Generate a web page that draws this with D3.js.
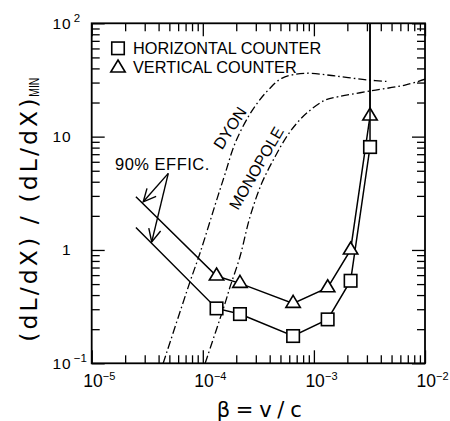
<!DOCTYPE html>
<html><head><meta charset="utf-8">
<script src="https://cdn.jsdelivr.net/npm/d3@7"></script>
<style>
body{margin:0;background:#fff}
svg{display:block}
text{font-family:"Liberation Sans",Arial,Helvetica,sans-serif;fill:#000}
</style>
</head><body>
<svg id="chart" width="450" height="421"></svg>
<script>
// ---------- data ----------
const beta = [1.33e-4, 2.16e-4, 6.5e-4, 1.33e-3, 2.14e-3, 3.2e-3];
const horizontalCounter = [0.305, 0.272, 0.174, 0.244, 0.535, 8.1];
const verticalCounter = [0.589, 0.507, 0.338, 0.464, 1.0, 15.2];
// 90% efficiency extrapolation (start of each line at low beta)
const effStartBeta = 2.5e-5;
const effStartHorizontal = 1.58;
const effStartVertical = 2.95;
const offScaleValue = 100; // lines continue off the top of the plot

const dyonBeta  = [4.4e-5, 7.67e-5, 9.44e-5, 1.35e-4, 1.585e-4, 1.95e-4, 2.57e-4, 3.16e-4, 3.89e-4, 5.13e-4, 8.32e-4, 1.55e-3, 3.07e-3, 4.65e-3];
const dyonValue = [0.1,    0.524,   0.94,    2.87,    4.68,     8.73,    15.0,    20.3,    25.8,    32.7,    36.2,    34.3,    31.6,    30.6];

const monopoleBeta  = [1.05e-4, 1.585e-4, 1.76e-4, 2.16e-4, 2.66e-4, 3.39e-4, 4.47e-4, 5.69e-4, 7.0e-4, 8.91e-4, 1.26e-3, 1.66e-3, 3.31e-3, 6.61e-3, 1.0e-2];
const monopoleValue = [0.1,     0.338,    0.473,   0.871,   1.96,    3.87,    6.65,    10.0,    13.1,   16.6,    21.0,    22.5,    25.4,    28.5,    32.1];

const xTickValues = [1e-5, 1e-4, 1e-3, 1e-2];
const xTickBase = ["10", "10", "10", "10"];
const xTickExp  = ["\u22125", "\u22124", "\u22123", "\u22122"];
const yTickValues = [0.1, 1, 10, 100];
const yTickBase = ["10", "1", "10", "10"];
const yTickExp  = ["\u22121", "", "", "2"];

const legendLabels = ["HORIZONTAL COUNTER", "VERTICAL COUNTER"];

// ---------- layout ----------
const L = 91.7, R = 425, T = 23.3, B = 363.3;
const svg = d3.select("#chart");
const x = d3.scaleLog().domain([1e-5, 1e-2]).range([L, R]);
const y = d3.scaleLog().domain([0.1, 100]).range([B, T]);

const isMajor = (v, arr) => arr.some(m => Math.abs(Math.log10(v) - Math.log10(m)) < 1e-6);
const minorX = x.ticks().filter(v => !isMajor(v, xTickValues));
const minorY = y.ticks().filter(v => !isMajor(v, yTickValues));

function tickAxis(axisFn, scale, vals, size, tr) {
  const g = svg.append("g").attr("transform", tr)
    .call(axisFn(scale).tickValues(vals).tickSize(-size).tickSizeOuter(0).tickFormat(""));
  g.select(".domain").remove();
  g.selectAll(".tick line").attr("stroke", "#000").attr("stroke-width", 1.3);
}
tickAxis(d3.axisBottom, x, xTickValues, 13, `translate(0,${B})`);
tickAxis(d3.axisBottom, x, minorX, 8, `translate(0,${B})`);
tickAxis(d3.axisTop, x, xTickValues, 13, `translate(0,${T})`);
tickAxis(d3.axisTop, x, minorX, 8, `translate(0,${T})`);
tickAxis(d3.axisLeft, y, yTickValues, 13, `translate(${L},0)`);
tickAxis(d3.axisLeft, y, minorY, 8, `translate(${L},0)`);
tickAxis(d3.axisRight, y, yTickValues, 13, `translate(${R},0)`);
tickAxis(d3.axisRight, y, minorY, 8, `translate(${R},0)`);

svg.append("rect").attr("x", L).attr("y", T).attr("width", R - L).attr("height", B - T)
  .attr("fill", "none").attr("stroke", "#000").attr("stroke-width", 1.8);

// x tick labels
xTickValues.forEach((v, i) => {
  const x0 = x(v) - 8.5, yb = B + 23.3;
  svg.append("text").attr("x", x0).attr("y", yb).attr("font-size", 17.5).text(xTickBase[i]);
  svg.append("text").attr("x", x0 + 19.6).attr("y", yb - 7).attr("font-size", 11).text(xTickExp[i]);
});
// y tick labels
yTickValues.forEach((v, i) => {
  const yy = y(v) + 5.3;
  svg.append("text").attr("x", L - 20).attr("y", yy).attr("text-anchor", "end")
    .attr("font-size", 15.5).attr("letter-spacing", 1).text(yTickBase[i]);
  if (yTickExp[i]) {
    svg.append("text").attr("x", L - 18).attr("y", yy - 6.5).attr("font-size", 11.5).text(yTickExp[i]);
  }
});

// axis titles
svg.append("text").attr("x", 216.7).attr("y", 416.5).attr("font-size", 21)
  .style("font-family", "'DejaVu Sans',sans-serif")
  .attr("textLength", 85).attr("lengthAdjust", "spacing").text("\u03B2=v/c");
svg.append("text").attr("transform", "translate(37,341.7) rotate(-90)").attr("font-size", 23.5)
  .style("font-family", "'DejaVu Sans',sans-serif")
  .attr("textLength", 243).attr("lengthAdjust", "spacing").text("(dL/dX) / (dL/dX)");
svg.append("text").attr("transform", "translate(38.8,96.7) rotate(-90)").attr("font-size", 14)
  .attr("textLength", 19).attr("lengthAdjust", "spacingAndGlyphs").text("MIN");

// curves
svg.append("clipPath").attr("id", "plotclip").append("rect")
  .attr("x", L).attr("y", T).attr("width", R - L).attr("height", B - T);
const plot = svg.append("g").attr("clip-path", "url(#plotclip)");
const curveGen = d3.line().x(d => x(d[0])).y(d => y(d[1])).curve(d3.curveCatmullRom.alpha(0.5));
const lineGen = d3.line().x(d => x(d[0])).y(d => y(d[1]));

plot.append("path").attr("d", curveGen(d3.zip(dyonBeta, dyonValue)))
  .attr("fill", "none").attr("stroke", "#000").attr("stroke-width", 1.3).attr("stroke-dasharray", "8,3,1.6,3");
plot.append("path").attr("d", curveGen(d3.zip(monopoleBeta, monopoleValue)))
  .attr("fill", "none").attr("stroke", "#000").attr("stroke-width", 1.3).attr("stroke-dasharray", "8,3,1.6,3");

const last = beta.length - 1;
const hPts = [[effStartBeta, effStartHorizontal], ...d3.zip(beta, horizontalCounter)];
const vPts = [[effStartBeta, effStartVertical], ...d3.zip(beta, verticalCounter), [beta[last], offScaleValue]];
plot.append("path").attr("d", lineGen(hPts)).attr("fill", "none").attr("stroke", "#000").attr("stroke-width", 1.5);
plot.append("path").attr("d", lineGen(vPts)).attr("fill", "none").attr("stroke", "#000").attr("stroke-width", 1.5);

// markers
const sq = 12.5;
function square(g, cx, cy) {
  g.append("rect").attr("x", cx - sq / 2).attr("y", cy - sq / 2).attr("width", sq).attr("height", sq)
    .attr("fill", "#fff").attr("stroke", "#000").attr("stroke-width", 1.6);
}
function triangle(g, cx, cy) {
  g.append("path").attr("d", `M${cx},${cy - 8}L${cx + 7.2},${cy + 4}L${cx - 7.2},${cy + 4}Z`)
    .attr("fill", "#fff").attr("stroke", "#000").attr("stroke-width", 1.6).attr("stroke-linejoin", "miter");
}
beta.forEach((b, i) => square(svg, x(b), y(horizontalCounter[i])));
beta.forEach((b, i) => triangle(svg, x(b), y(verticalCounter[i])));
// horizontal-counter line continues off scale, drawn over the triangle
svg.append("path").attr("d", lineGen([[beta[last], horizontalCounter[last]], [beta[last], offScaleValue]]))
  .attr("stroke", "#000").attr("stroke-width", 1.5).attr("fill", "none");
square(svg, x(beta[last]), y(horizontalCounter[last]));

// legend
square(svg, 118, 48.3);
triangle(svg, 118, 68);
svg.append("text").attr("x", 133).attr("y", 53.5).attr("font-size", 16.3).text(legendLabels[0]);
svg.append("text").attr("x", 133).attr("y", 72.7).attr("font-size", 16.3).text(legendLabels[1]);

// curve labels (just left of each curve)
svg.append("text").attr("transform", `translate(${x(1.95e-4) - 5},${y(11.2) - 3}) rotate(-57)`)
  .attr("text-anchor", "middle").attr("dominant-baseline", "central").attr("font-size", 16).text("DYON");
svg.append("text").attr("transform", `translate(${x(3.44e-4) - 6},${y(4.9) - 3.5}) rotate(-60)`)
  .attr("text-anchor", "middle").attr("dominant-baseline", "central").attr("font-size", 16).text("MONOPOLE");

// 90% efficiency annotation
svg.append("text").attr("x", x(1.62e-5)).attr("y", y(5.07)).attr("font-size", 16.5).attr("letter-spacing", 0.5).text("90% EFFIC.");
const arrowFrom = [4.89e-5, 4.74];
const arrowTips = [[2.91e-5, 2.66], [3.47e-5, 1.18]];
arrowTips.forEach(tp => {
  const x0 = x(arrowFrom[0]), y0 = y(arrowFrom[1]), x1 = x(tp[0]), y1 = y(tp[1]);
  svg.append("line").attr("x1", x0).attr("y1", y0).attr("x2", x1).attr("y2", y1)
    .attr("stroke", "#000").attr("stroke-width", 1.4);
  const ang = Math.atan2(y0 - y1, x0 - x1), hl = 14, ha = 0.45;
  const p = [[x1 + hl * Math.cos(ang + ha), y1 + hl * Math.sin(ang + ha)], [x1, y1], [x1 + hl * Math.cos(ang - ha), y1 + hl * Math.sin(ang - ha)]];
  svg.append("path").attr("d", d3.line()(p)).attr("fill", "none").attr("stroke", "#000").attr("stroke-width", 1.4);
});
</script>
</body></html>
